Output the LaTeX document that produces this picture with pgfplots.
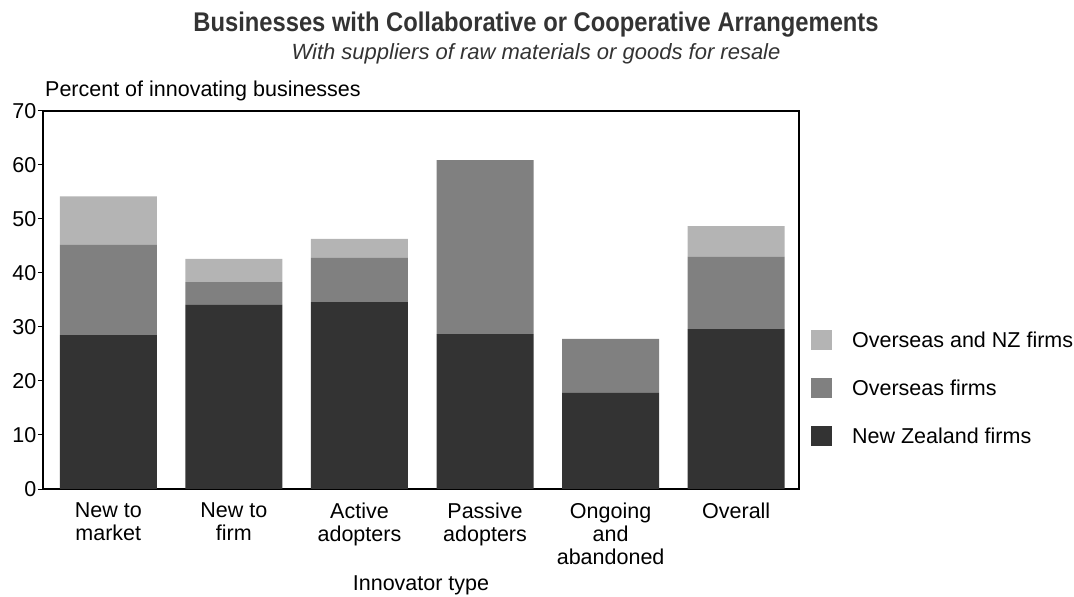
\documentclass[border=0pt]{standalone}
\usepackage{pgfplots}
\pgfplotsset{compat=1.18}
\usepackage{fontspec}
\setmainfont{Liberation Sans}
\newfontfamily\titlefont{Liberation Sans}[FakeStretch=0.88]
\definecolor{cLight}{HTML}{B4B4B4}
\definecolor{cMid}{HTML}{808080}
\definecolor{cDark}{HTML}{333333}
\definecolor{cTitle}{HTML}{333333}
\begin{document}
\begin{tikzpicture}
\path[use as bounding box] (0,0) rectangle (1074bp,597bp);
\begin{axis}[
  at={(43bp,108bp)}, anchor=south west,
  width=756bp, height=378bp, scale only axis,
  ybar stacked, bar width=97bp,
  xmin=-0.52, xmax=5.5, ymin=0, ymax=70,
  ytick={0,10,...,70},
  xtick={0,1,2,3,4,5},
  xticklabels={{New to\\market},{New to\\firm},{Active\\adopters},{Passive\\adopters},{Ongoing\\and\\abandoned},{Overall}},
  xtick style={draw=none},
  ytick pos=left, tick align=outside, major tick length=5bp,
  ytick style={line width=1bp, black},
  axis line style={line width=1.6bp, black},
  /pgf/number format/assume math mode=true,
  ticklabel style={font=\fontsize{21.5bp}{23bp}\selectfont},
  xticklabel style={align=center, yshift=-5bp},
  yticklabel style={inner sep=1.5bp},
  xlabel={Innovator type},
  xlabel style={font=\fontsize{21.5bp}{23bp}\selectfont, yshift=-5bp},
  reverse legend,
  legend style={draw=none, fill=none, inner sep=0pt, outer sep=0pt,
    at={(1.016,0.4206)}, anchor=north west,
    font=\fontsize{21.5bp}{23bp}\selectfont,
    row sep=28bp,
    nodes={inner sep=0pt, text height=14bp, text depth=0pt},
    /tikz/every odd column/.append style={column sep=20bp}},
  legend cell align=left,
  legend image code/.code={\fill[#1] (0bp,-10bp) rectangle (21bp,10bp);},
]
\addplot[fill=cDark, draw=none] coordinates {(0,28.5) (1,34.1) (2,34.6) (3,28.7) (4,17.8) (5,29.6)};
\addplot[fill=cMid, draw=none] coordinates {(0,16.7) (1,4.2) (2,8.2) (3,32.2) (4,10.0) (5,13.4)};
\addplot[fill=cLight, draw=none] coordinates {(0,9.0) (1,4.3) (2,3.5) (3,0) (4,0) (5,5.7)};
\legend{New Zealand firms, Overseas firms, Overseas and NZ firms}
\end{axis}
\node[anchor=base west, inner sep=0pt, font=\fontsize{21.5bp}{23bp}\selectfont] at (45bp,500bp) {Percent of innovating businesses};
\node[anchor=base, font=\titlefont\bfseries\fontsize{27bp}{30bp}\selectfont, text=cTitle] at (536bp,565bp) {Businesses with Collaborative or Cooperative Arrangements};
\node[anchor=base, font=\itshape\fontsize{22bp}{25bp}\selectfont, text=cTitle] at (536bp,537bp) {With suppliers of raw materials or goods for resale};
\end{tikzpicture}
\end{document}
